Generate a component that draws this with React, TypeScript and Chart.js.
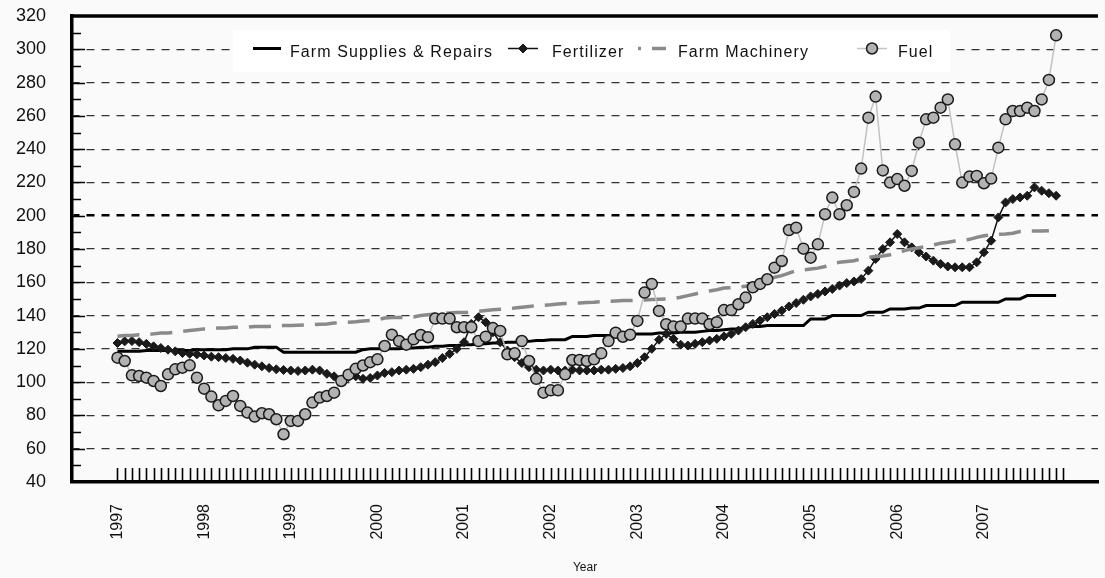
import React, { useEffect, useRef } from 'react';
import { Chart, registerables } from 'chart.js';

Chart.register(...registerables);

const FONT = '"Liberation Sans", Arial, Helvetica, sans-serif';
Chart.defaults.font.family = FONT;
Chart.defaults.color = '#111';

// Tick labels (one per January) and number of monthly minor ticks (Jan 1997 - Dec 2007)
const YEAR_LABELS = ['1997', '1998', '1999', '2000', '2001', '2002', '2003', '2004', '2005', '2006', '2007'];
const MONTH_TICK_COUNT = 132;

const SERIES_NAMES = ['Farm Supplies & Repairs', 'Fertilizer', 'Farm Machinery', 'Fuel'];

// Monthly index values, Jan 1997 onward
const FARM_SUPPLIES = [
  118.5, 118.5, 118.5, 118.5, 119, 119, 119, 119, 119, 119,
  119, 119.5, 119.5, 119.5, 119.5, 119.5, 120, 120, 120, 121,
  121, 121, 121, 118, 118, 118, 118, 118, 118, 118,
  118, 118, 118, 118, 119.5, 120, 120, 120, 120, 120,
  120.5, 120.5, 121, 121, 121.5, 121.5, 122, 122, 122.5, 122.5,
  123, 123, 123.5, 123.5, 124, 124, 124.5, 124.5, 125, 125,
  125.5, 125.5, 125.5, 127.5, 127.5, 127.5, 128, 128, 128, 128.5,
  128.5, 128.5, 129, 129, 129, 129.5, 129.5, 129.5, 130, 130,
  130, 130.5, 131, 131, 131.5, 132, 132, 133, 133.5, 133.5,
  134, 134, 134, 134, 134, 134, 138, 138, 138, 140,
  140, 140, 140, 140, 142, 142, 142, 144, 144, 144,
  144.5, 144.5, 146, 146, 146, 146, 146, 148, 148, 148,
  148, 148, 148, 150, 150, 150, 152, 152, 152, 152, 152,
];

const FERTILIZER = [
  123.5, 124.5, 124.7, 124, 123, 121.5, 120.5, 119.5, 118.5, 117.5,
  117, 116.7, 116, 115.3, 115, 114.5, 114, 113, 111.7, 110.5,
  109.5, 108.5, 107.7, 107.3, 107, 106.7, 107, 107.5, 107, 105,
  103.5, 101.5, 103, 103.5, 102, 102.5, 104, 105.5, 106, 107,
  107.5, 108, 109, 110.5, 112, 114.5, 117, 120, 124, 135,
  139, 136, 130, 124, 119, 115, 111.5, 109, 107.5, 107,
  107.5, 107, 107, 107.5, 107, 107, 107, 107.5, 107.5, 108,
  108.5, 109.5, 111.5, 115, 120, 125.5, 129, 126, 122.5, 122,
  123, 124, 125, 126, 127.5, 129, 131, 133, 135, 137,
  139, 141, 143, 145.5, 147.5, 149.5, 151.5, 153, 154.5, 156,
  158, 159.5, 160.5, 162, 167, 174, 180, 184, 189, 184,
  181, 178, 175.5, 173, 171, 169.5, 169, 169, 169, 172,
  178, 185, 199, 208, 210, 211, 212, 217, 215, 213.5, 212,
];

const FARM_MACHINERY = [
  127.6, 128, 128, 128.5, 128.5, 129, 129.5, 129.5, 130, 130.5,
  131, 131.5, 132, 132, 132.5, 132.5, 133, 133, 133, 133.5,
  133.5, 133.5, 134, 134, 134, 134.2, 134.4, 134.6, 134.8, 135,
  135.5, 135.8, 136, 136.3, 136.7, 137, 137.5, 138.5, 138.8, 138.8,
  139, 139.2, 140, 140.5, 141, 141.2, 141.5, 141.8, 141.8, 142,
  142.5, 143, 143.5, 143.8, 144, 144.5, 145, 145.5, 146, 146.2,
  146.5, 147, 147.2, 147.4, 147.6, 147.8, 148, 148.3, 148.6, 148.8,
  149, 149, 149.2, 149.4, 149.6, 149.8, 150, 150.3, 151, 152,
  153, 154, 154.8, 155.5, 156.5, 156.8, 157.2, 157.6, 158, 159.5,
  161.5, 163, 164, 165.5, 167, 167.5, 168, 168.5, 169.5, 171,
  172, 172.5, 173, 174, 175, 175.5, 175.8, 176.5, 177.5, 179,
  180, 180.8, 181.5, 182.5, 183.5, 184, 184.8, 185.3, 185.8, 187,
  188, 188.5, 188.8, 189, 189.5, 190.5, 190.8, 190.8, 190.8, 191,
];

const FUEL = [
  114.7, 112.7, 104.1, 103.7, 102.7, 100.7, 97.7, 104.7, 107.7, 108.7,
  110.1, 102.7, 96.1, 91.3, 86.1, 88.7, 91.7, 85.7, 81.7, 79.3,
  81.3, 80.7, 77.7, 68.7, 76.7, 76.7, 80.7, 87.7, 90.7, 91.7,
  93.7, 100.7, 104.5, 108, 110, 112, 113.7, 121.7, 128.5, 124.7,
  122.5, 125.7, 128.3, 127, 138.2, 138.2, 138.2, 133, 133, 133,
  124.7, 127.3, 132.5, 130.8, 116.7, 117.3, 124.7, 112.7, 102, 93.7,
  95.1, 95.1, 104.7, 113.3, 113.3, 112.7, 113.7, 117.3, 124.7, 129.7,
  127.3, 128.5, 136.8, 153.8, 159, 142.8, 134.8, 133.4, 133.4, 138.2,
  138.2, 138.2, 134.8, 136, 143.3, 143.3, 146.8, 150.8, 157, 159,
  161.8, 168.8, 172.8, 191.4, 192.8, 180.2, 174.8, 182.8, 200.9, 210.9,
  200.9, 206.3, 214.3, 228.3, 258.9, 271.6, 227.2, 219.9, 222, 218,
  226.9, 243.9, 257.9, 258.9, 264.9, 269.9, 242.9, 219.9, 223.5, 223.9,
  219.5, 222.3, 240.9, 257.9, 262.9, 262.9, 264.9, 262.9, 269.9, 281.6, 308.4,
];

const toPoints = (arr: number[]) => arr.map((y, i) => ({ x: i, y }));

const framePlugin = {
  id: 'frameTicks',
  beforeDatasetsDraw(chart: any) {
    const { ctx, chartArea: a, scales } = chart;
    const xs = scales.x;
    const ys = scales.y;
    ctx.save();
    ctx.strokeStyle = '#000';
    ctx.lineWidth = 1.6;
    ctx.beginPath();
    for (let m = 0; m < MONTH_TICK_COUNT; m++) {
      const px = Math.round(xs.getPixelForValue(m)) + 0.5;
      ctx.moveTo(px, a.bottom - 1);
      ctx.lineTo(px, a.bottom - 14);
    }
    for (let v = ys.min + 10; v < ys.max; v += 10) {
      const py = Math.round(ys.getPixelForValue(v)) + 0.5;
      const len = v % 20 === 0 ? 13 : 9;
      ctx.moveTo(a.left, py);
      ctx.lineTo(a.left + len, py);
    }
    ctx.stroke();
    ctx.restore();
  },
  afterDraw(chart: any) {
    const { ctx, chartArea: a } = chart;
    ctx.save();
    ctx.strokeStyle = '#000';
    ctx.lineWidth = 3.5;
    ctx.beginPath();
    ctx.moveTo(a.left - 1.75, a.top);
    ctx.lineTo(a.right, a.top);
    ctx.stroke();
    ctx.restore();
  },
};

// legend layout: sample line start/end and text x
const LEGEND_BOX = { x: 233, y: 30, w: 717, h: 42 };
const LEGEND_LAYOUT = [
  { x1: 253, x2: 281, tx: 290 },
  { x1: 508, x2: 538, tx: 552 },
  { x1: 638, x2: 666, tx: 678 },
  { x1: 857, x2: 887, tx: 898 },
];

const legendPlugin = {
  id: 'insideLegend',
  afterDraw(chart: any) {
    const { ctx } = chart;
    const ds = chart.data.datasets;
    ctx.save();
    ctx.fillStyle = '#ffffff';
    ctx.fillRect(LEGEND_BOX.x, LEGEND_BOX.y, LEGEND_BOX.w, LEGEND_BOX.h);
    const ly = 48.5;
    LEGEND_LAYOUT.forEach((it, i) => {
      const d = ds[i];
      ctx.save();
      ctx.strokeStyle = d.borderColor;
      ctx.lineWidth = d.borderWidth;
      if (d.borderDash) {
        ctx.setLineDash(d.borderDash);
        ctx.lineDashOffset = 19;
      }
      ctx.beginPath();
      ctx.moveTo(it.x1, ly);
      ctx.lineTo(it.x2, ly);
      ctx.stroke();
      ctx.restore();
      if (d.pointRadius) {
        const cx = (it.x1 + it.x2) / 2;
        ctx.save();
        ctx.fillStyle = d.pointBackgroundColor;
        ctx.strokeStyle = d.pointBorderColor;
        ctx.lineWidth = d.pointBorderWidth;
        ctx.beginPath();
        if (d.pointStyle === 'rectRot') {
          const r = d.pointRadius;
          ctx.moveTo(cx, ly - r);
          ctx.lineTo(cx + r, ly);
          ctx.lineTo(cx, ly + r);
          ctx.lineTo(cx - r, ly);
          ctx.closePath();
        } else {
          ctx.arc(cx, ly, d.pointRadius, 0, Math.PI * 2);
        }
        ctx.fill();
        ctx.stroke();
        ctx.restore();
      }
      ctx.save();
      ctx.fillStyle = '#111';
      ctx.font = '16px ' + FONT;
      (ctx as any).letterSpacing = '1.1px';
      ctx.textBaseline = 'alphabetic';
      ctx.textAlign = 'left';
      ctx.fillText(d.label, it.tx, 56.5);
      ctx.restore();
    });
    ctx.restore();
  },
};

export default function App() {
  const ref = useRef<HTMLCanvasElement | null>(null);

  useEffect(() => {
    if (!ref.current) return;
    const chart = new Chart(ref.current, {
      type: 'line',
      data: {
        datasets: [
          {
            label: SERIES_NAMES[0],
            data: toPoints(FARM_SUPPLIES),
            borderColor: '#000000',
            borderWidth: 3,
            pointRadius: 0,
            order: 4,
          },
          {
            label: SERIES_NAMES[1],
            data: toPoints(FERTILIZER),
            borderColor: '#111111',
            borderWidth: 1.5,
            pointStyle: 'rectRot',
            pointRadius: 4.5,
            pointBackgroundColor: '#1a1a1a',
            pointBorderColor: '#1a1a1a',
            pointBorderWidth: 1,
            order: 3,
          },
          {
            label: SERIES_NAMES[2],
            data: toPoints(FARM_MACHINERY),
            borderColor: '#8a8a8a',
            borderWidth: 3.5,
            borderDash: [22, 11],
            pointRadius: 0,
            order: 2,
          },
          {
            label: SERIES_NAMES[3],
            data: toPoints(FUEL),
            borderColor: '#c2c2c2',
            borderWidth: 1.5,
            pointRadius: 5.5,
            pointBackgroundColor: '#b3b3b3',
            pointBorderColor: '#1a1a1a',
            pointBorderWidth: 1.5,
            order: 1,
          },
        ] as any,
      },
      options: {
        animation: false,
        responsive: false,
        devicePixelRatio: 1,
        events: [],
        layout: { padding: { top: 16, left: 0, right: 0, bottom: 0 } },
        elements: { line: { tension: 0 } },
        plugins: {
          legend: { display: false },
          tooltip: { enabled: false },
        },
        scales: {
          x: {
            type: 'linear',
            bounds: 'data',
            min: -6.3,
            max: 135.8,
            afterBuildTicks: (scale: any) => {
              scale.ticks = YEAR_LABELS.map((_, i) => ({ value: i * 12 }));
            },
            afterFit: (scale: any) => {
              scale.height = 96;
              scale.paddingLeft = 0;
              scale.paddingRight = 0;
            },
            ticks: {
              autoSkip: false,
              minRotation: 90,
              maxRotation: 90,
              padding: 22,
              color: '#111',
              font: { size: 16 },
              callback: (v: any) => YEAR_LABELS[Math.round(Number(v) / 12)] ?? '',
            },
            grid: { display: false, drawTicks: false },
            border: { display: true, color: '#000', width: 3.5 },
            title: {
              display: true,
              text: 'Year',
              color: '#111',
              font: { size: 12 },
              padding: { top: 0, bottom: 3 },
            },
          },
          y: {
            min: 40,
            max: 320,
            afterFit: (scale: any) => {
              scale.width = 72;
              scale.paddingTop = 0;
              scale.paddingBottom = 0;
            },
            ticks: {
              stepSize: 20,
              padding: 26,
              color: '#111',
              font: { size: 18 },
            },
            grid: {
              drawTicks: false,
              color: (c: any) => {
                const v = c.tick ? c.tick.value : null;
                if (v === 40 || v === 320) return 'rgba(0,0,0,0)';
                return v === 200 ? '#000' : '#333';
              },
              lineWidth: (c: any) => (c.tick && c.tick.value === 200 ? 2.6 : 1.2),
            },
            border: {
              display: true,
              color: '#000',
              width: 3.5,
              dash: (c: any) => (c.tick ? [8, 7] : []),
              dashOffset: 2,
            },
          },
        },
      } as any,
      plugins: [framePlugin, legendPlugin],
    });
    return () => chart.destroy();
  }, []);

  return (
    <div style={{ position: 'fixed', left: 0, top: 0, width: 1105, height: 578, background: '#fafafa' }}>
      <canvas ref={ref} width={1105} height={578} style={{ display: 'block' }} />
    </div>
  );
}
